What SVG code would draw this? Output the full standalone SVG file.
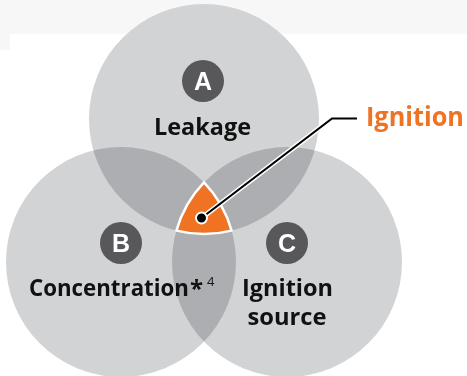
<svg xmlns="http://www.w3.org/2000/svg" width="467" height="376" viewBox="0 0 467 376">
<style>
.set{fill:#d2d3d5;mix-blend-mode:multiply}
.badge{fill:#58585b}
.badge-t{font-family:"Liberation Sans",Arial,sans-serif;font-weight:700;font-size:25px;fill:#fff;text-anchor:middle}
.lbl{font-family:"Open Sans",Lato,sans-serif;font-weight:700;font-size:24px;fill:#111}
.sup{font-family:"Open Sans",Lato,sans-serif;font-size:13px;fill:#111}
.call{font-family:"Open Sans",Lato,sans-serif;font-weight:700;font-size:26.5px;fill:#f07323}
</style>
<rect x="0" y="0" width="467" height="376" fill="#fff"/>
<rect x="0" y="0" width="467" height="34" fill="#f7f7f7"/>
<rect x="0" y="34" width="10" height="16" fill="#f7f7f7"/>
<g id="sets" style="isolation:isolate">
<circle class="set" cx="204" cy="119" r="115"/>
<circle class="set" cx="121" cy="262" r="115"/>
<circle class="set" cx="287" cy="262" r="115"/>
</g>
<g id="ignition-region">
<path d="M204,182.4 A115,115 0 0 1 231.6,230.6 A115,115 0 0 1 176.4,230.6 A115,115 0 0 1 204,182.4 Z" fill="#f07323" stroke="#fff" stroke-width="2.5" stroke-linejoin="round"/>
</g>
<g id="node-a">
<circle class="badge" cx="203" cy="81" r="21"/>
<text class="badge-t" x="203" y="90">A</text>
<text class="lbl" x="154" y="135" textLength="97" lengthAdjust="spacingAndGlyphs">Leakage</text>
</g>
<g id="node-b">
<circle class="badge" cx="121" cy="243" r="21"/>
<text class="badge-t" x="121" y="252">B</text>
<text class="lbl" x="29" y="295.5" textLength="160" lengthAdjust="spacingAndGlyphs">Concentration</text>
<text class="lbl" x="190" y="297">*</text>
<text class="sup" x="207" y="286">4</text>
</g>
<g id="node-c">
<circle class="badge" cx="287" cy="243" r="21"/>
<text class="badge-t" x="287" y="252">C</text>
<text class="lbl" x="242" y="295.5" textLength="91" lengthAdjust="spacingAndGlyphs">Ignition</text>
<text class="lbl" x="247.5" y="325" textLength="79" lengthAdjust="spacingAndGlyphs">source</text>
</g>
<g id="connectors" fill="none" stroke-linejoin="miter">
<polyline points="201.5,218 332,118.5 357,118.5" stroke="#fff" stroke-width="5"/>
<polyline points="201.5,218 332,118.5 357,118.5" stroke="#000" stroke-width="2.2"/>
<circle cx="201.5" cy="218" r="5.5" fill="#000" stroke="#fff" stroke-width="2"/>
</g>
<g id="label-ignition">
<text class="call" x="366" y="126" textLength="98" lengthAdjust="spacingAndGlyphs">Ignition</text>
</g>
</svg>
